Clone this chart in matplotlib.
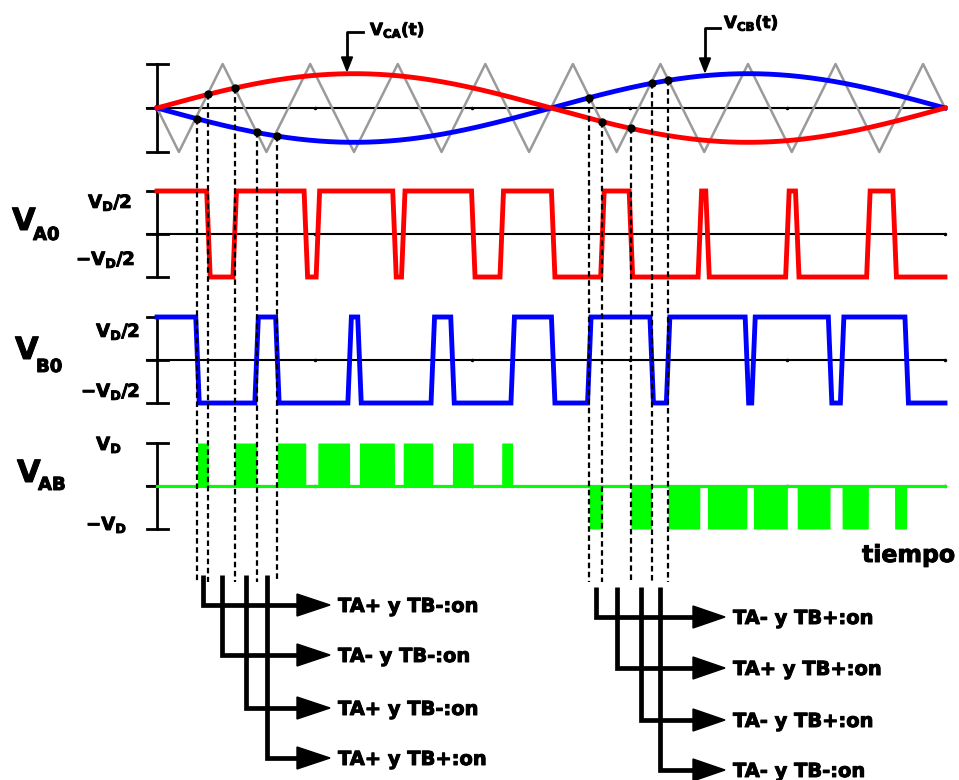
import numpy as np
import matplotlib
matplotlib.use("Agg")
import matplotlib.pyplot as plt
from matplotlib import transforms as mtrans
from matplotlib import patheffects as pe

# angles are in degrees of the fundamental (0..360)
carrier_t = [0, 10, 30, 50, 70, 90, 110, 130, 150, 170, 190, 210, 230, 250, 270, 290, 310, 330, 350, 360]
carrier_v = [0, -1, 1, -1, 1, -1, 1, -1, 1, -1, 1, -1, 1, -1, 1, -1, 1, -1, 1, 0]
mod_index = 0.78

# intervals where each leg sits at +VD/2
va_high = [(0, 23.5), (35.5, 68), (73.5, 108.5), (112.5, 144.5), (157.5, 181),
           (203.5, 216.5), (248, 251.5), (288, 292.5), (325, 337)]
vb_high = [(0, 18.5), (45.5, 55), (88, 92.5), (126, 135), (162.5, 181),
           (197.5, 226), (233.5, 269.5), (272.5, 307.5), (313, 342.5)]

# marked crossings (angle, which reference)
left_marks = [(18.5, "B"), (23.5, "A"), (35.5, "A"), (45.5, "B"), (55, "B")]
right_marks = [(197.5, "B"), (203.5, "A"), (216.5, "A"), (226, "B"), (233.5, "B")]

left_states = ["TA+ y TB-:on", "TA- y TB-:on", "TA+ y TB-:on", "TA+ y TB+:on"]
right_states = ["TA- y TB+:on", "TA+ y TB+:on", "TA- y TB+:on", "TA- y TB-:on"]

tick_deg = [72, 144, 216, 288, 360]

RED, BLUE, GREEN, GRAY = "#ff0000", "#0000ff", "#00ff00", "#9a9a9a"
HEAVY = [pe.withStroke(linewidth=0.7, foreground="k")]

# page geometry in pixels
X0, X1 = 157, 945
SX = (X1 - X0) / 360.0

fig = plt.figure(figsize=(9.59, 7.80), dpi=100)
ax = fig.add_axes([0, 0, 1, 1])
ax.set_autoscale_on(False)
ax.set_xlim(0, 959)
ax.set_ylim(780, 0)
ax.axis("off")


def panel_tr(row, amp):
    return mtrans.Affine2D().scale(SX, -amp).translate(X0, row) + ax.transData


top = panel_tr(108, 44)
pa = panel_tr(234, 43)
pb = panel_tr(360, 43)
pab = panel_tr(486, 43)


def draw_axes(tr):
    ax.plot([-4.6, 360], [0, 0], color="k", lw=1.5, transform=tr, zorder=1)
    ax.plot([0, 0], [-1, 1], color="k", lw=2, transform=tr, zorder=1)
    for v in (-1, 0, 1):
        ax.plot([-4.6, 5], [v, v], color="k", lw=2, transform=tr, zorder=1)
    ax.plot(tick_deg, [0] * len(tick_deg), "k.", ms=3, transform=tr, zorder=1)


def pwm_points(highs, ramp=0.8):
    t, v = [0], [1 if highs[0][0] == 0 else -1]
    for a, b in highs:
        if a > 0:
            t += [a - ramp, a + ramp]
            v += [-1, 1]
        t += [b - ramp, b + ramp]
        v += [1, -1]
    t.append(360)
    v.append(-1)
    return t, v


def level(t, highs):
    out = -np.ones_like(t)
    for a, b in highs:
        out[(t >= a) & (t < b)] = 1
    return out


for tr in (top, pa, pb, pab):
    draw_axes(tr)

# references and carrier
th = np.linspace(0, 360, 721)
ref = mod_index * np.sin(np.radians(th))
ax.plot(carrier_t, carrier_v, color=GRAY, lw=1.8, transform=top, zorder=2)
ax.plot(th, -ref, color=BLUE, lw=3.5, transform=top, zorder=3)
ax.plot(th, ref, color=RED, lw=3.5, transform=top, zorder=3)

# leg voltages
ta, va = pwm_points(va_high)
ax.plot(ta, va, color=RED, lw=3.5, transform=pa, zorder=3, solid_joinstyle="miter")
tb, vb = pwm_points(vb_high)
ax.plot(tb, vb, color=BLUE, lw=3.5, transform=pb, zorder=3, solid_joinstyle="miter")

# line voltage VAB = VA0 - VB0 (in units of VD)
tt = np.linspace(0, 360, 7201)
vab = (level(tt, va_high) - level(tt, vb_high)) / 2
ax.fill_between(tt, 0, vab, color=GREEN, lw=0, transform=pab, zorder=3)
ax.plot([0, 360], [0, 0], color=GREEN, lw=2.2, transform=pab, zorder=3)

# crossing dots and dashed guides
to_px = ax.transData.inverted()
for marks in (left_marks, right_marks):
    for ang, leg in marks:
        v = mod_index * np.sin(np.radians(ang)) * (1 if leg == "A" else -1)
        px, row = to_px.transform(top.transform((ang, v)))
        ax.plot([px, px], [row, 582], color="k", lw=1.6, ls=(0, (2.5, 1.6)), zorder=5)
        ax.plot([px], [row], "o", color="k", ms=5, zorder=6)


def state_tree(marks, top_row, rows, x_base, x_tip, labels):
    angs = [m[0] for m in marks]
    for i, (row, lab) in enumerate(zip(rows, labels)):
        x = X0 + SX * (angs[i] + angs[i + 1]) / 2
        ax.plot([x, x, x_base], [top_row, row, row], color="k", lw=3.4,
                solid_joinstyle="miter", solid_capstyle="butt", zorder=4)
        ax.fill([x_base, x_tip, x_base], [row - 11, row, row + 11], color="k", zorder=4)
        ax.text(x_tip + 8, row + 7, lab, fontsize=14, fontweight="bold",
                ha="left", va="baseline", path_effects=HEAVY)


state_tree(left_marks, 575, [605, 655, 708, 758], 297, 330, left_states)
state_tree(right_marks, 587, [617, 668, 720, 770], 693, 725, right_states)

# reference labels with pointer arrows
ax.plot([363, 347, 347], [32, 32, 58], color="k", lw=2)
ax.fill([341.5, 352.5, 347], [57, 57, 71], color="k")
ax.text(370, 35, r"$\mathbf{V_{CA}(t)}$", fontsize=12, ha="left", va="baseline",
        path_effects=HEAVY)
ax.plot([720, 705, 705], [28, 28, 58], color="k", lw=2)
ax.fill([699.5, 710.5, 705], [58, 58, 72], color="k")
ax.text(724, 28, r"$\mathbf{V_{CB}(t)}$", fontsize=12, ha="left", va="baseline",
        path_effects=HEAVY)

# panel names
for x, base, sub, sub_dy in [(12, 230, "A0", 10), (15, 359, "B0", 13), (17, 482, "AB", 8)]:
    ax.text(x, base, "V", fontsize=22, fontweight="bold", ha="left", va="baseline",
            path_effects=HEAVY)
    ax.text(x + 21, base + sub_dy, sub, fontsize=13, fontweight="bold",
            ha="left", va="baseline", path_effects=HEAVY)

# level labels
level_labels = [
    (132, 208, r"$\mathbf{V_D/2}$"), (135, 265, r"$\mathbf{-V_D/2}$"),
    (140, 337, r"$\mathbf{V_D/2}$"), (140, 397, r"$\mathbf{-V_D/2}$"),
    (122, 450, r"$\mathbf{V_D}$"), (127, 530, r"$\mathbf{-V_D}$"),
]
for x, base, s in level_labels:
    ax.text(x, base, s, fontsize=13, ha="right", va="baseline", path_effects=HEAVY)

ax.text(862, 562, "tiempo", fontsize=17, fontweight="bold", ha="left", va="baseline",
        path_effects=HEAVY)

fig.savefig("out.png", dpi=100)
